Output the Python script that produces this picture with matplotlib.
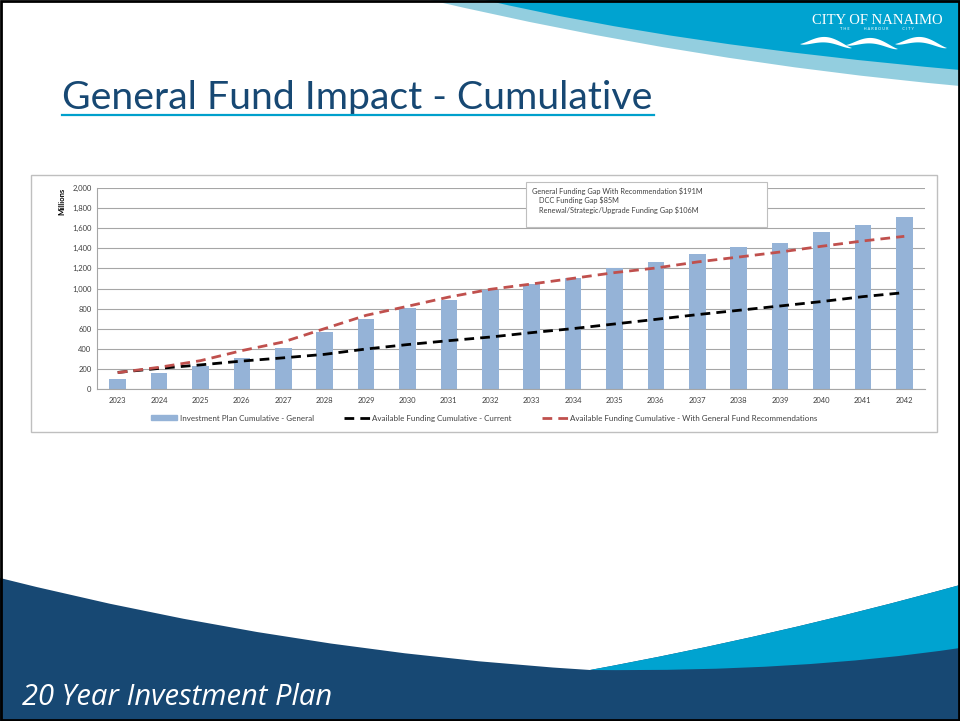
import numpy as np
import matplotlib
matplotlib.use("Agg")
import matplotlib.pyplot as plt
from matplotlib.patches import Rectangle, PathPatch, Patch
from matplotlib.path import Path
from matplotlib.lines import Line2D

plt.rcParams['font.family'] = ['Lato', 'DejaVu Sans']

# data (millions)
years = [str(y) for y in range(2023, 2043)]
investment = [100, 155, 230, 305, 410, 570, 700, 810, 890, 990,
              1040, 1100, 1200, 1265, 1340, 1410, 1450, 1560, 1635, 1710]
funding_current = [165, 205, 240, 278, 310, 345, 398, 442, 481, 517,
                   561, 601, 647, 693, 740, 783, 826, 870, 919, 959]
funding_recommended = [163, 216, 282, 382, 468, 601, 733, 823, 915, 992,
                       1045, 1101, 1158, 1204, 1264, 1313, 1363, 1420, 1473, 1519]
y_ticks = list(range(0, 2001, 200))
legend_labels = ["Investment Plan Cumulative - General",
                 "Available Funding Cumulative - Current",
                 "Available Funding Cumulative - With General Fund Recommendations"]
gap_notes = ["General Funding Gap With Recommendation $191M",
             "DCC Funding Gap $85M",
             "Renewal/Strategic/Upgrade Funding Gap $106M"]

NAVY = '#174873'
BLUE = '#00A3D0'
PALE = '#93CEDF'
TXT = '#404040'

W, H = 960, 721
fig = plt.figure(figsize=(W / 100, H / 100), dpi=100)

# slide background, pixel coords
bg = fig.add_axes([0, 0, 1, 1], zorder=0)
bg.set_xlim(0, W)
bg.set_ylim(H, 0)
bg.axis('off')


def shape(pts, codes, color, z=1):
    bg.add_patch(PathPatch(Path(pts, codes), facecolor=color, edgecolor='none', zorder=z))


M, C3, L, CL = Path.MOVETO, Path.CURVE3, Path.LINETO, Path.CLOSEPOLY

# top swoosh
shape([(430, 0), (695, 62), (960, 86), (960, 0), (430, 0), (430, 0)],
      [M, C3, C3, L, L, CL], PALE)
shape([(485, 0), (677, 45), (960, 70), (960, 0), (485, 0), (485, 0)],
      [M, C3, C3, L, L, CL], BLUE)

# bottom swoosh
shape([(0, 578), (293, 652), (590, 670), (775, 636), (960, 585),
       (960, H), (0, H), (0, 578)],
      [M, C3, C3, C3, C3, L, L, CL], NAVY)
shape([(590, 670), (775, 636), (960, 585), (960, 648), (800, 672), (590, 670), (590, 670)],
      [M, C3, C3, L, C3, C3, CL], BLUE, z=2)

# logo
bg.text(877, 20, "CITY OF NANAIMO", color='white', fontsize=10.5,
        family='Liberation Serif', ha='center', va='center', zorder=3)
bg.text(877, 29.5, "T H E              H A R B O U R              C I T Y", color='white',
        fontsize=2.8, ha='center', va='center', zorder=3)
for x0, y0 in ((800, 44), (846, 45), (895, 44)):
    t = np.linspace(0, 1, 40)
    xs = x0 + 52 * t
    top = y0 - 9 * np.sin(np.pi * t) ** 1.3 + 4 * t
    bot = top + 5.5 * np.sin(np.pi * t) ** 0.8
    bg.fill(np.r_[xs, xs[::-1]], np.r_[top, bot[::-1]], color='white', lw=0, zorder=3)

# frame
bg.add_patch(Rectangle((1, 1), W - 2, H - 2, fill=False, edgecolor='black', lw=2, zorder=5))

# title
bg.text(62, 109, "General Fund Impact - Cumulative", color=NAVY, fontsize=28.3,
        ha='left', va='baseline', zorder=3)
bg.plot([62, 654], [114.5, 114.5], color='#00A0CC', lw=1.6, zorder=3)

# footer
bg.text(22, 705, "20 Year Investment Plan", color='white', fontsize=21,
        style='italic', family=['Open Sans', 'DejaVu Sans'], ha='left', va='baseline', zorder=3)

# chart frame
bg.add_patch(Rectangle((31, 175), 906, 257, facecolor='white', edgecolor='#bfbfbf', lw=1, zorder=3))

# chart
ax = fig.add_axes([97 / W, 1 - 389 / H, 828 / W, 201 / H], zorder=2)
x = np.arange(len(years))
ax.bar(x, investment, width=0.4, color='#95B3D7', zorder=2)
ax.plot(x, funding_current, color='black', lw=2, dashes=(3.5, 2.2), zorder=3)
ax.plot(x, funding_recommended, color='#C0504D', lw=2, dashes=(3.5, 2.2), zorder=3)
ax.set_xlim(-0.5, len(years) - 0.5)
ax.set_ylim(0, 2000)
ax.set_yticks(y_ticks)
ax.set_yticklabels([f"{v:,}" for v in y_ticks])
ax.set_xticks(x)
ax.set_xticklabels(years)
ax.tick_params(length=0, labelsize=5.5, colors=TXT, pad=4)
ax.tick_params(axis='x', pad=6)
ax.grid(axis='y', color='#a6a6a6', lw=0.8, zorder=0)
for s in ('top', 'right'):
    ax.spines[s].set_visible(False)
for s in ('left', 'bottom'):
    ax.spines[s].set_color('#a6a6a6')
    ax.spines[s].set_linewidth(0.8)
ax.set_ylabel("Millions", fontsize=5.5, fontweight='bold', color='black', loc='top', labelpad=5)

handles = [Patch(color='#95B3D7'),
           Line2D([], [], color='black', lw=2, dashes=(3.5, 2.2)),
           Line2D([], [], color='#C0504D', lw=2, dashes=(3.5, 2.2))]
ax.legend(handles, legend_labels, loc='center', bbox_to_anchor=(0.468, -0.145), ncol=3,
          frameon=False, fontsize=5.8, labelcolor=TXT, handlelength=3.2,
          handleheight=0.6, columnspacing=3.7, handletextpad=0.35)

# gap note box
ov = fig.add_axes([0, 0, 1, 1], zorder=4)
ov.set_xlim(0, W)
ov.set_ylim(H, 0)
ov.axis('off')
ov.add_patch(Rectangle((526, 182), 241, 45, facecolor='white', edgecolor='#bfbfbf', lw=0.8))
for i, note in enumerate(gap_notes):
    ov.text(532 if i == 0 else 539, 191 + 9.6 * i, note, fontsize=5.3, color=TXT,
            ha='left', va='center')

fig.savefig("out.png", dpi=100)
